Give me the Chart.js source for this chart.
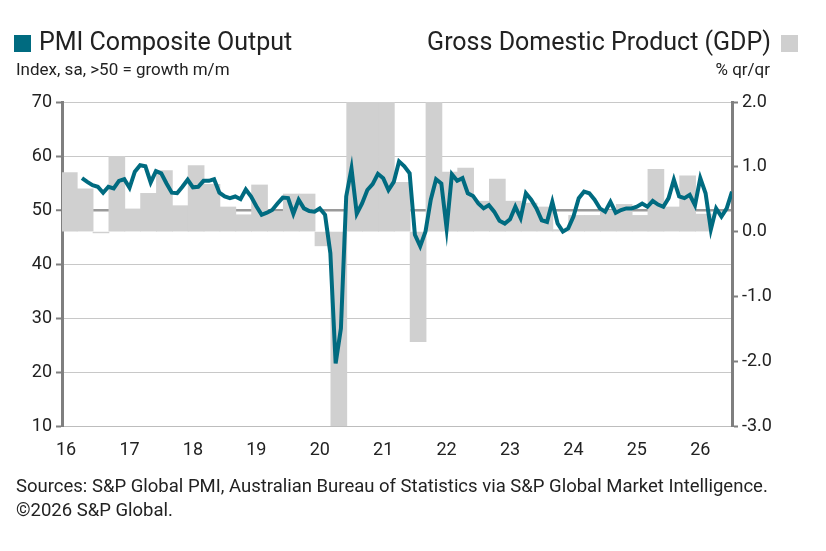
<!DOCTYPE html>
<html>
<head>
<meta charset="utf-8">
<script src="https://cdn.jsdelivr.net/npm/chart.js@4"></script>
<style>
  body { margin: 0; background: #fff; font-family: Roboto, "Liberation Sans", sans-serif; color: #222; }
  #wrap { position: relative; width: 826px; height: 551px; }
  canvas { position: absolute; left: 0; top: 0; }
  .t { position: absolute; white-space: nowrap; }
  .sw { display: inline-block; width: 17px; height: 17px; vertical-align: middle; }
</style>
</head>
<body>
<div id="wrap">
  <canvas id="c" width="826" height="551"></canvas>
  <div class="t" style="left:14px;top:27px;font-size:25px;"><span class="sw" style="background:#006b80;margin-right:8px;"></span>PMI Composite Output</div>
  <div class="t" style="left:16px;top:59px;font-size:17px;">Index, sa, &gt;50 = growth m/m</div>
  <div class="t" style="right:28px;top:27px;font-size:25px;">Gross Domestic Product (GDP)<span class="sw" style="background:#cfcfcf;margin-left:10px;"></span></div>
  <div class="t" style="right:56px;top:59px;font-size:17px;">% qr/qr</div>
  <div class="t" style="left:16px;top:474px;font-size:18.5px;line-height:24px;">Sources: S&amp;P Global PMI, Australian Bureau of Statistics via S&amp;P Global Market Intelligence.<br>©2026 S&amp;P Global.</div>
</div>
<script>
// PMI monthly from Apr 2016
const pmiStart = 2016.25;
const pmiValues = [
  55.9, 55.2, 54.6, 54.3, 53.2, 54.3, 54.0, 55.4, 55.7, 54.1, 57.1, 58.3,
  58.1, 55.1, 57.2, 56.8, 54.9, 53.2, 53.1, 54.3, 55.6, 54.2, 54.3, 55.4,
  55.4, 55.7, 53.2, 52.5, 52.2, 52.5, 52.0, 53.8, 52.5, 50.7, 49.1, 49.5,
  50.0, 51.2, 52.3, 52.2, 49.3, 51.9, 50.3, 49.8, 49.7, 50.3, 49.1, 42.0,
  21.6, 28.1, 52.5, 57.7, 49.3, 51.2, 53.7, 54.8, 56.7, 55.9, 53.7, 55.2,
  59.0, 58.1, 56.8, 45.4, 43.3, 46.0, 51.9, 55.7, 54.9, 46.6, 56.6, 55.4,
  55.9, 53.1, 52.6, 51.2, 50.3, 50.9, 49.7, 48.0, 47.5, 48.3, 50.6, 48.5,
  53.1, 51.9, 50.3, 48.1, 47.8, 51.5, 47.5, 46.0, 46.6, 48.8, 52.2, 53.4,
  53.1, 51.9, 50.3, 49.7, 51.5, 49.5, 50.0, 50.3, 50.3, 50.6, 51.2, 50.6,
  51.7, 51.0, 50.6, 52.2, 55.6, 52.5, 52.2, 52.8, 50.9, 55.9, 53.1, 46.4,
  50.3, 48.8, 50.3, 53.4
];
// GDP quarterly from Q1 2016
const gdpStart = 2016.05;
const gdpValues = [
  0.91, 0.66, -0.02, 1.16, 0.35, 0.59, 0.94, 0.40,
  1.02, 0.73, 0.38, 0.26, 0.72, 0.30, 0.58, 0.58,
  -0.22, -7.0, 3.5, 3.4, 2.1, 0.76, -1.70, 3.6,
  0.92, 0.98, 0.47, 0.81, 0.47, 0.44, 0.38, 0.03,
  0.25, 0.25, 0.33, 0.42, 0.25, 0.96, 0.38, 0.86,
  0.27
];
const yearTicks = [2016, 2017, 2018, 2019, 2020, 2021, 2022, 2023, 2024, 2025, 2026];

const pmiPoints = pmiValues.map((v, i) => ({ x: pmiStart + i / 12, y: v }));
const gdpPoints = gdpValues.map((v, i) => ({ x: gdpStart + i * 0.25, y: v }));

const tickFont = { family: "Roboto, 'Liberation Sans', sans-serif", size: 18 };

new Chart(document.getElementById('c'), {
  data: {
    datasets: [
      { type: 'line', data: pmiPoints, yAxisID: 'y', borderColor: '#006b80', borderWidth: 4,
        pointRadius: 0, tension: 0, order: 1 },
      { type: 'bar', data: gdpPoints, yAxisID: 'y1', backgroundColor: '#d0d0d0',
        barThickness: 16, order: 2 }
    ]
  },
  options: {
    responsive: false,
    animation: false,
    layout: { padding: { top: 102, bottom: 85, left: 0, right: 0 } },
    plugins: { legend: { display: false }, tooltip: { enabled: false } },
    scales: {
      x: {
        type: 'linear', min: 2015.935, max: 2026.5, offset: false,
        afterBuildTicks: s => { s.ticks = yearTicks.map(v => ({ value: v })); },
        afterFit: s => { s.height = 40; },
        grid: { display: false },
        border: { color: '#bdbdbd', width: 1 },
        ticks: { font: tickFont, color: '#222', padding: 6,
          callback: v => String(v).slice(2) }
      },
      y: {
        position: 'left', min: 10, max: 70,
        afterFit: s => { s.width = 62; },
        border: { color: '#7f7f7f', width: 3 },
        grid: {
          color: c => c.tick && c.tick.value === 50 ? '#9a9a9a' : '#c8c8c8',
          lineWidth: c => c.tick && c.tick.value === 50 ? 2.5 : 1,
          tickColor: '#7f7f7f', tickLength: 6, tickWidth: 2
        },
        ticks: { stepSize: 10, font: tickFont, color: '#222', padding: 4 }
      },
      y1: {
        position: 'right', min: -3, max: 2,
        afterFit: s => { s.width = 94; },
        border: { color: '#7f7f7f', width: 3 },
        grid: { drawOnChartArea: false, tickColor: '#7f7f7f', tickLength: 6, tickWidth: 2 },
        ticks: { stepSize: 1, font: tickFont, color: '#222', padding: 4,
          callback: v => v.toFixed(1) }
      }
    }
  }
});
</script>
</body>
</html>
